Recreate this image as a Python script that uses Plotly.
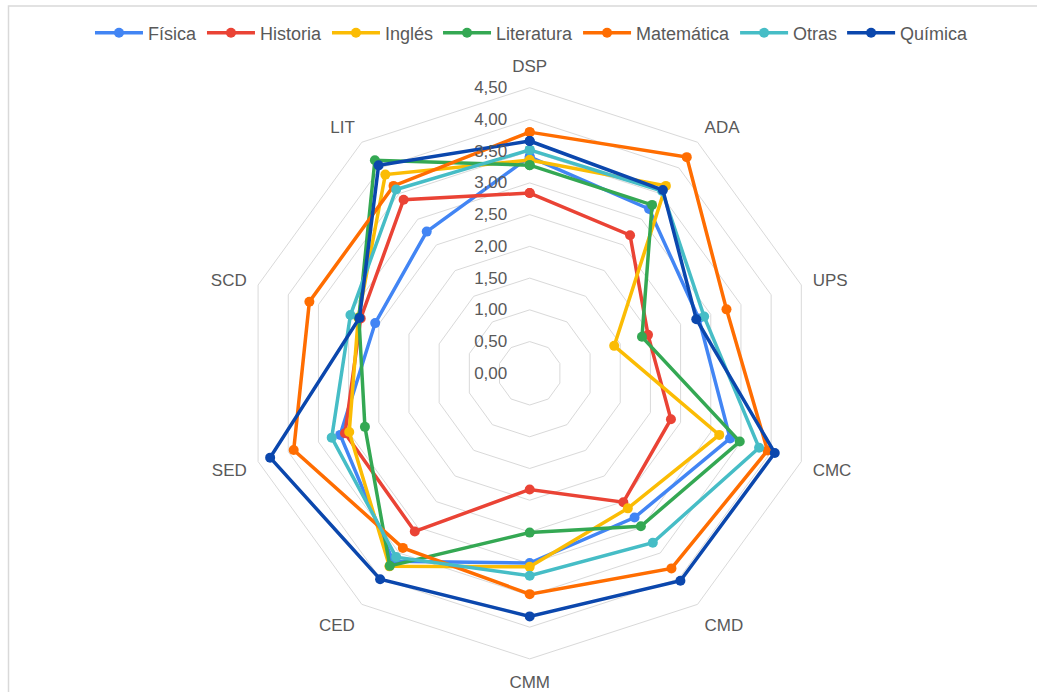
import plotly.graph_objects as go

categories = ["DSP", "ADA", "UPS", "CMC", "CMD", "CMM", "CED", "SED", "SCD", "LIT"]

fisica     = [3.41, 3.20, 2.80, 3.32, 2.81, 2.99, 3.66, 3.14, 2.56, 2.76]
historia   = [2.84, 2.69, 1.96, 2.34, 2.51, 1.83, 3.08, 3.06, 2.80, 3.38]
ingles     = [3.36, 3.65, 1.40, 3.14, 2.63, 3.05, 3.76, 2.99, 2.84, 3.87]
literatura = [3.28, 3.28, 1.86, 3.48, 2.98, 2.51, 3.75, 2.73, 2.83, 4.15]
matematica = [3.80, 4.21, 3.26, 3.94, 3.80, 3.48, 3.40, 3.91, 3.65, 3.65]
otras      = [3.52, 3.55, 2.89, 3.80, 3.30, 3.19, 3.58, 3.28, 2.97, 3.58]
quimica    = [3.66, 3.57, 2.76, 4.06, 4.04, 3.83, 4.01, 4.30, 2.82, 4.05]

series_names = ["Física", "Historia", "Inglés", "Literatura", "Matemática", "Otras", "Química"]
series_values = [fisica, historia, ingles, literatura, matematica, otras, quimica]
colors = ["#4285F4", "#EA4335", "#FBBC04", "#34A853", "#FF6D01", "#46BDC6", "#0B47AD"]

tick_vals = [0, 0.5, 1, 1.5, 2, 2.5, 3, 3.5, 4, 4.5]

W, H = 1037, 692
cx, cy, R = 529.7, 373.3, 285.6

fig = go.Figure()
for name, vals, col in zip(series_names, series_values, colors):
    fig.add_trace(go.Scatterpolar(
        r=vals + vals[:1],
        theta=categories + categories[:1],
        name=name,
        mode="lines+markers",
        line=dict(color=col, width=3.5),
        marker=dict(color=col, size=10),
    ))

grid_col = "#d9d9d9"
fig.update_layout(
    width=W, height=H,
    margin=dict(l=0, r=0, t=0, b=0),
    paper_bgcolor="white",
    separators=",.",
    font=dict(family="Liberation Sans, Arial, sans-serif", color="#595959", size=17),
    polar=dict(
        domain=dict(x=[(cx - R) / W, (cx + R) / W], y=[(H - cy - R) / H, (H - cy + R) / H]),
        bgcolor="white",
        gridshape="linear",
        radialaxis=dict(
            range=[0, 4.5], tickvals=tick_vals, tickformat=".2f",
            angle=90, tickangle=90, side="counterclockwise",
            showline=False, ticks="outside", ticklen=16, tickcolor="rgba(0,0,0,0)",
            gridcolor=grid_col, gridwidth=1,
            tickfont=dict(size=17, color="#595959"),
        ),
        angularaxis=dict(
            direction="clockwise", rotation=90,
            showgrid=False, linecolor=grid_col, linewidth=1,
            ticks="outside", ticklen=8, tickcolor="rgba(0,0,0,0)",
            tickfont=dict(size=17, color="#595959"),
        ),
    ),
    legend=dict(
        orientation="h", x=0.513, xanchor="center", y=1 - 33 / H, yanchor="middle",
        font=dict(size=18, color="#595959"), itemwidth=48,
        traceorder="normal",
    ),
    shapes=[dict(type="rect", xref="paper", yref="paper",
                 x0=8.5 / W, x1=1.2, y0=-0.2, y1=1 - 6 / H,
                 line=dict(color=grid_col, width=1.5))],
)

fig.write_html("out.html")
